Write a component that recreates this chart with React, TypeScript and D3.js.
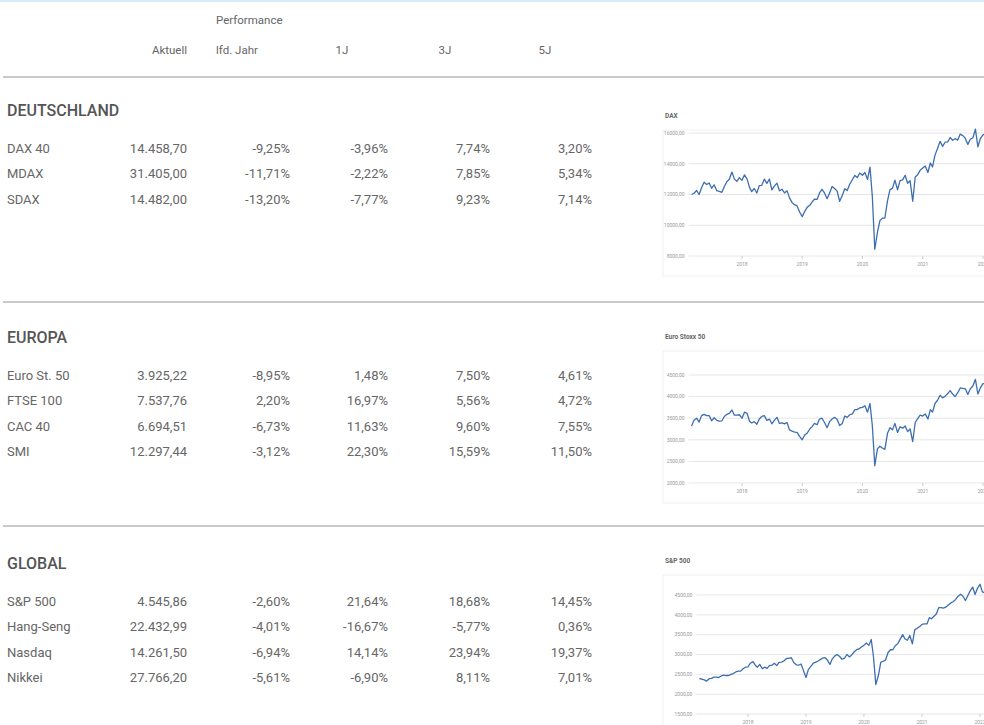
import React from "react";
import * as d3 from "d3";

// table data
const headerLabels = ["Aktuell", "lfd. Jahr", "1J", "3J", "5J"];
const sectionTitles = ["DEUTSCHLAND", "EUROPA", "GLOBAL"];

const deNames = ["DAX 40", "MDAX", "SDAX"];
const deAktuell = [14458.7, 31405.0, 14482.0];
const deYtd = [-9.25, -11.71, -13.2];
const de1J = [-3.96, -2.22, -7.77];
const de3J = [7.74, 7.85, 9.23];
const de5J = [3.2, 5.34, 7.14];

const euNames = ["Euro St. 50", "FTSE 100", "CAC 40", "SMI"];
const euAktuell = [3925.22, 7537.76, 6694.51, 12297.44];
const euYtd = [-8.95, 2.2, -6.73, -3.12];
const eu1J = [1.48, 16.97, 11.63, 22.3];
const eu3J = [7.5, 5.56, 9.6, 15.59];
const eu5J = [4.61, 4.72, 7.55, 11.5];

const glNames = ["S&P 500", "Hang-Seng", "Nasdaq", "Nikkei"];
const glAktuell = [4545.86, 22432.99, 14261.5, 27766.2];
const glYtd = [-2.6, -4.01, -6.94, -5.61];
const gl1J = [21.64, -16.67, 14.14, -6.9];
const gl3J = [18.68, -5.77, 23.94, 8.11];
const gl5J = [14.45, 0.36, 19.37, 7.01];

// chart data: half-monthly closes (1st / 16th) from March 2017
const chartTitles = ["DAX", "Euro Stoxx 50", "S&P 500"];
const yearTicks = [2018, 2019, 2020, 2021, 2022];

const daxSeries = [
  12000, 12080, 12260, 12000, 12440, 12800, 12650, 12750, 12400, 12630, 12250, 12200,
  12140, 12520, 12830, 12990, 13460, 13000, 12860, 13100,
  12920, 13280, 13000, 12450, 12190, 12390, 12100, 12580, 12600, 13000, 12720, 13010,
  12300, 12540, 12740, 12240, 12340, 12100, 12250, 11780, 11470, 11340, 11260, 10860,
  10560, 10900, 11180, 11300, 11500, 11690, 11680, 12100, 12340, 12100, 11730, 12090,
  12520, 12390, 12220, 11560, 11940, 12380, 12260, 12670, 12960, 13240, 13100, 13400,
  13250, 13430, 12980, 13780, 11890, 8440, 9540, 10300, 10460, 10470, 11590, 12320,
  12400, 12930, 12310, 12900, 12950, 13250, 12730, 12900, 11560, 13140, 13290, 13570,
  13720, 13850, 13430, 14050, 13790, 14560, 15010, 15460, 15130, 15400, 15420, 15710,
  15530, 15630, 15540, 15930, 15830, 15650, 15260, 15590, 15690, 16250, 15100, 15640,
  15880, 15930, 15620, 15370, 14060, 14440,
];

const sx5eSeries = [
  3320, 3450, 3500, 3410, 3560, 3590, 3560, 3560, 3440, 3510, 3450, 3430,
  3440, 3540, 3590, 3610, 3690, 3570, 3570, 3580,
  3500, 3640, 3610, 3430, 3390, 3420, 3360, 3480, 3540, 3560, 3450, 3480,
  3370, 3450, 3520, 3380, 3390, 3370, 3400, 3230, 3200, 3180, 3170, 3080,
  3000, 3110, 3160, 3250, 3300, 3380, 3350, 3480, 3500, 3400, 3280, 3420,
  3480, 3520, 3470, 3330, 3380, 3550, 3520, 3580, 3600, 3700, 3700, 3740,
  3750, 3790, 3640, 3840, 3330, 2400, 2790, 2850, 2810, 2780, 3150, 3280,
  3230, 3380, 3170, 3300, 3270, 3320, 3190, 3250, 2960, 3400, 3490, 3570,
  3550, 3600, 3480, 3700, 3640, 3840, 3920, 4030, 3970, 4010, 4070, 4140,
  4060, 4000, 4090, 4200, 4190, 4180, 4050, 4180, 4250, 4400, 4060, 4200,
  4300, 4300, 4180, 4150, 3920, 3860,
];

const spxSeries = [
  2395, 2380, 2360, 2330, 2390, 2400, 2430, 2430, 2420, 2460, 2480, 2470,
  2470, 2500, 2520, 2560, 2580, 2580, 2640, 2680,
  2690, 2780, 2820, 2730, 2680, 2750, 2640, 2680, 2650, 2720, 2730, 2780,
  2720, 2800, 2810, 2840, 2900, 2900, 2920, 2800, 2740, 2730, 2760, 2600,
  2420, 2620, 2700, 2780, 2800, 2830, 2870, 2910, 2920, 2860, 2750, 2890,
  2960, 3000, 2950, 2880, 2910, 3000, 2940, 2990, 3070, 3120, 3140, 3190,
  3230, 3290, 3230, 3380, 2950, 2240, 2470, 2800, 2830, 2860, 3050, 3120,
  3120, 3220, 3270, 3380, 3500, 3390, 3360, 3480, 3270, 3620, 3660, 3700,
  3760, 3770, 3770, 3930, 3900, 3960, 4020, 4180, 4180, 4170, 4200, 4250,
  4300, 4330, 4390, 4470, 4520, 4470, 4360, 4480, 4610, 4700, 4510, 4670,
  4770, 4580, 4550, 4470, 4300, 4400,
];

const daxTicks = [8000, 10000, 12000, 14000, 16000];
const sx5eTicks = [2000, 2500, 3000, 3500, 4000, 4500];
const spxTicks = [1500, 2000, 2500, 3000, 3500, 4000, 4500];

const seriesDates = daxSeries.map((_, i) => new Date(2017, 2 + Math.floor(i / 2), i % 2 ? 16 : 1));

const de = d3.formatLocale({ decimal: ",", thousands: ".", grouping: [3], currency: ["", " €"], minus: "-" });
const fmtValue = de.format(",.2f");
const fmtPct = (v: number) => de.format(".2f")(v) + "%";
const fmtTick = de.format(".2f");

const W = 984;
const H = 725;
const FONT = "Roboto, 'Noto Sans', sans-serif";
const colRight = [187, 290, 388, 490, 592];

type Section = {
  title: string;
  titleY: number;
  names: string[];
  cols: number[][];
};

const sections: Section[] = [
  { title: sectionTitles[0], titleY: 116, names: deNames, cols: [deAktuell, deYtd, de1J, de3J, de5J] },
  { title: sectionTitles[1], titleY: 343, names: euNames, cols: [euAktuell, euYtd, eu1J, eu3J, eu5J] },
  { title: sectionTitles[2], titleY: 569, names: glNames, cols: [glAktuell, glYtd, gl1J, gl3J, gl5J] },
];

function Spark({ title, series, ticks, titleY, top, bottom, x0, x1 }: {
  title: string; series: number[]; ticks: number[]; titleY: number;
  top: number; bottom: number; x0: number; x1: number;
}) {
  const x = d3.scaleTime().domain([new Date(2018, 0, 1), new Date(2022, 0, 1)]).range([x0, x1]);
  const y = d3.scaleLinear().domain([ticks[0], ticks[ticks.length - 1]]).range([bottom, top]);
  const line = d3.line<number>().x((_, i) => x(seriesDates[i])).y((d) => y(d));
  const left = x(seriesDates[0]) - 3;
  return (
    <g>
      <rect x={663} y={titleY + 12} width={330} height={bottom - titleY + 8} fill="none" stroke="#f1f1f1" />
      <text x={665} y={titleY} fontSize={6.5} fontWeight={700} fill="#666">{title}</text>
      {ticks.map((t) => (
        <g key={t}>
          <line x1={left} x2={W} y1={y(t)} y2={y(t)} stroke="#e6e6e6" strokeWidth={1} />
          <text x={left - 4} y={y(t) + 1.8} fontSize={5} textAnchor="end" fill="#999">{fmtTick(t)}</text>
        </g>
      ))}
      {yearTicks.map((yr) => (
        <g key={yr}>
          <line x1={x(new Date(yr, 0, 1))} x2={x(new Date(yr, 0, 1))} y1={bottom} y2={bottom + 3} stroke="#ccc" />
          <text x={x(new Date(yr, 0, 1))} y={bottom + 10} fontSize={5} textAnchor="middle" fill="#999">{yr}</text>
        </g>
      ))}
      <path d={line(series) || ""} fill="none" stroke="#3d6eb0" strokeWidth={1.3} strokeLinejoin="round" />
    </g>
  );
}

export default function App() {
  return (
    <>
      <style>{`body{margin:0}`}</style>
      <svg width={W} height={H} style={{ display: "block", fontFamily: FONT }}>
        <rect x={0} y={0} width={W} height={H} fill="#fff" />
        <rect x={0} y={0} width={W} height={2} fill="#d8ecf9" />

        <text x={216} y={24} fontSize={11.5} fill="#666">Performance</text>
        <text x={colRight[0]} y={54} fontSize={11.5} fill="#666" textAnchor="end">{headerLabels[0]}</text>
        <text x={216} y={54} fontSize={11.5} fill="#666">{headerLabels[1]}</text>
        <text x={342} y={54} fontSize={11.5} fill="#666" textAnchor="middle">{headerLabels[2]}</text>
        <text x={445} y={54} fontSize={11.5} fill="#666" textAnchor="middle">{headerLabels[3]}</text>
        <text x={545} y={54} fontSize={11.5} fill="#666" textAnchor="middle">{headerLabels[4]}</text>

        {[77, 302, 526].map((yy) => (
          <line key={yy} x1={3} x2={W} y1={yy} y2={yy} stroke="#c9c9c9" strokeWidth={2} />
        ))}

        {sections.map((s) => (
          <g key={s.title}>
            <text x={7} y={s.titleY} fontSize={16} fontWeight={500} fill="#555">{s.title}</text>
            {s.names.map((n, i) => {
              const by = s.titleY + 36.5 + i * 25.5;
              return (
                <g key={n}>
                  <text x={7} y={by} fontSize={13} fill="#666">{n}</text>
                  {s.cols.map((col, c) => (
                    <text key={c} x={colRight[c]} y={by} fontSize={13} fill="#666" textAnchor="end">
                      {c === 0 ? fmtValue(col[i]) : fmtPct(col[i])}
                    </text>
                  ))}
                </g>
              );
            })}
          </g>
        ))}

        <Spark title={chartTitles[0]} series={daxSeries} ticks={daxTicks} titleY={118} top={133} bottom={256} x0={742} x1={983} />
        <Spark title={chartTitles[1]} series={sx5eSeries} ticks={sx5eTicks} titleY={339} top={375} bottom={483} x0={742} x1={983} />
        <Spark title={chartTitles[2]} series={spxSeries} ticks={spxTicks} titleY={563} top={595} bottom={714} x0={748} x1={980} />
      </svg>
    </>
  );
}
